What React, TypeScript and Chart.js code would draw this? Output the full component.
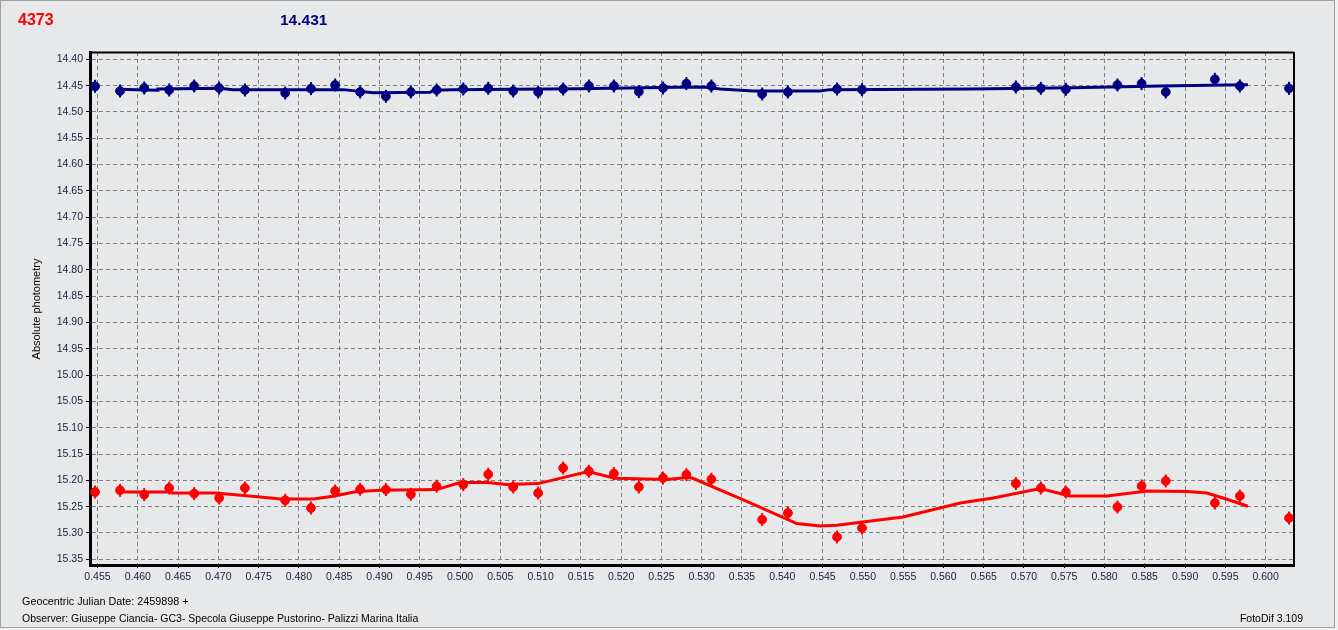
import React, { useEffect, useRef } from "react";
import { Chart, registerables } from "chart.js";
Chart.register(...registerables);

const jdTicks = [0.455, 0.46, 0.465, 0.47, 0.475, 0.48, 0.485, 0.49, 0.495, 0.5, 0.505, 0.51, 0.515, 0.52, 0.525, 0.53, 0.535, 0.54, 0.545, 0.55, 0.555, 0.56, 0.565, 0.57, 0.575, 0.58, 0.585, 0.59, 0.595, 0.6];
const magTicks = [14.4, 14.45, 14.5, 14.55, 14.6, 14.65, 14.7, 14.75, 14.8, 14.85, 14.9, 14.95, 15.0, 15.05, 15.1, 15.15, 15.2, 15.25, 15.3, 15.35];

const obsJD = [0.4547, 0.4578, 0.4608, 0.4639, 0.4670, 0.4701, 0.4733, 0.4783, 0.4815, 0.4845, 0.4876, 0.4908, 0.4939, 0.4971, 0.5004, 0.5035, 0.5066, 0.5097, 0.5128, 0.5160, 0.5191, 0.5222, 0.5252, 0.5281, 0.5312, 0.5375, 0.5407, 0.5468, 0.5499, 0.5690, 0.5721, 0.5752, 0.5816, 0.5846, 0.5876, 0.5937, 0.5968, 0.6029];
const compMag = [14.4513, 14.4602, 14.4545, 14.4583, 14.4507, 14.4545, 14.4583, 14.4640, 14.4557, 14.4488, 14.4621, 14.4703, 14.4621, 14.4583, 14.4564, 14.4551, 14.4602, 14.4621, 14.4564, 14.4507, 14.4507, 14.4614, 14.4545, 14.4462, 14.4507, 14.4659, 14.4621, 14.4564, 14.4576, 14.4526, 14.4551, 14.4570, 14.4488, 14.4462, 14.4621, 14.4380, 14.4507, 14.4551];
const varMag = [15.2222, 15.2189, 15.2271, 15.2146, 15.2252, 15.2336, 15.2146, 15.2379, 15.2526, 15.2203, 15.2170, 15.2176, 15.2265, 15.2113, 15.2081, 15.1885, 15.2127, 15.2241, 15.1766, 15.1828, 15.1872, 15.2127, 15.1956, 15.1891, 15.1980, 15.2746, 15.2621, 15.3077, 15.2906, 15.2062, 15.2146, 15.2222, 15.2507, 15.2108, 15.2013, 15.2431, 15.2298, 15.2716];

const varFitJD = [0.4574, 0.4639, 0.4643, 0.4697, 0.4752, 0.4777, 0.4818, 0.4842, 0.4872, 0.4901, 0.4971, 0.5000, 0.5034, 0.5058, 0.5097, 0.5159, 0.5192, 0.5257, 0.5282, 0.5289, 0.5356, 0.5418, 0.5447, 0.5468, 0.5500, 0.5550, 0.5621, 0.5662, 0.5720, 0.5757, 0.5803, 0.5853, 0.5903, 0.5927, 0.5952, 0.5978];
const varFitMag = [15.2222, 15.2222, 15.2241, 15.2241, 15.2317, 15.2355, 15.2355, 15.2303, 15.2214, 15.2189, 15.2176, 15.2043, 15.2043, 15.2081, 15.2062, 15.1834, 15.1961, 15.1986, 15.1948, 15.1961, 15.2398, 15.2822, 15.2868, 15.2854, 15.2792, 15.2697, 15.2431, 15.2336, 15.2157, 15.2298, 15.2298, 15.2203, 15.2214, 15.2241, 15.2360, 15.2493];
const compFitJD = [0.4574, 0.4624, 0.4625, 0.4702, 0.4718, 0.4855, 0.4892, 0.4963, 0.4967, 0.4991, 0.5145, 0.5269, 0.5302, 0.5323, 0.5364, 0.5447, 0.5459, 0.5633, 0.5761, 0.5869, 0.5952, 0.5978];
const compFitMag = [14.4570, 14.4589, 14.4564, 14.4551, 14.4576, 14.4576, 14.4633, 14.4627, 14.4589, 14.4576, 14.4557, 14.4532, 14.4526, 14.4564, 14.4602, 14.4602, 14.4576, 14.4564, 14.4538, 14.4507, 14.4488, 14.4481];

const varTitle = "4373";
const compTitle = "14.431";
const yTitle = "Absolute photometry";
const xTitle = "Geocentric Julian Date: 2459898 +";
const observer = "Observer: Giuseppe Ciancia- GC3- Specola Giuseppe Pustorino- Palizzi Marina Italia";
const software = "FotoDif 3.109";

const RED = "#ff0000";
const NAVY = "#000080";
const BG = "#e7e8ea";
const FONT = "'Liberation Sans', Arial, sans-serif";

function pts(xs: number[], ys: number[]) {
  return xs.map((x, i) => ({ x, y: ys[i] }));
}

export default function App() {
  const ref = useRef<HTMLCanvasElement | null>(null);
  useEffect(() => {
    document.body.style.margin = "0";
    const canvas = ref.current;
    if (!canvas) return;
    const frame = {
      id: "frame",
      afterDraw(chart: any) {
        const { ctx, chartArea: a } = chart;
        ctx.save();
        ctx.strokeStyle = "#000";
        ctx.lineWidth = 2;
        ctx.beginPath();
        ctx.moveTo(a.left, a.top + 0.5);
        ctx.lineTo(a.right, a.top + 0.5);
        ctx.moveTo(a.right, a.top);
        ctx.lineTo(a.right, a.bottom);
        ctx.stroke();
        ctx.restore();
      },
    };
    const mk = (data: any, color: string, extra: any) => ({
      data,
      borderColor: color,
      backgroundColor: color,
      pointBackgroundColor: color,
      pointBorderColor: color,
      ...extra,
    });
    const chart = new Chart(canvas, {
      type: "scatter",
      data: {
        datasets: [
          mk(pts(varFitJD, varFitMag), RED, { showLine: true, pointRadius: 0, borderWidth: 3, order: 3 }),
          mk(pts(compFitJD, compFitMag), NAVY, { showLine: true, pointRadius: 0, borderWidth: 3, order: 3 }),
          mk(pts(obsJD, varMag), RED, { pointStyle: "line", rotation: 90, pointRadius: 6.5, pointBorderWidth: 2, order: 2 }),
          mk(pts(obsJD, compMag), NAVY, { pointStyle: "line", rotation: 90, pointRadius: 6.5, pointBorderWidth: 2, order: 2 }),
          mk(pts(obsJD, varMag), RED, { pointStyle: "circle", pointRadius: 4.4, pointBorderWidth: 1, order: 1 }),
          mk(pts(obsJD, compMag), NAVY, { pointStyle: "circle", pointRadius: 4.4, pointBorderWidth: 1, order: 1 }),
        ],
      },
      options: {
        animation: false,
        responsive: false,
        events: [],
        layout: { padding: { top: 52, right: 44, left: 0, bottom: 0 } },
        plugins: { legend: { display: false }, tooltip: { enabled: false }, title: { display: false } },
        scales: {
          x: {
            type: "linear",
            min: 0.45407,
            max: 0.60352,
            afterBuildTicks: (s: any) => { s.ticks = jdTicks.map((v) => ({ value: v })); },
            afterFit: (s: any) => { s.height = 65; },
            ticks: {
              callback: (v: any) => Number(v).toFixed(3),
              color: "#1c1c3c",
              font: { family: FONT, size: 10.5 },
              padding: 3,
              maxRotation: 0,
              autoSkip: false,
            },
            grid: {
              color: "#808080",
              tickBorderDash: [],
              tickColor: "#000",
              tickLength: 3,
              lineWidth: 1,
            },
            border: { display: true, color: "#000", width: 3, dash: [4, 3] },
          },
          y: {
            type: "linear",
            reverse: true,
            min: 14.3861,
            max: 15.3609,
            afterBuildTicks: (s: any) => { s.ticks = magTicks.map((v) => ({ value: v })); },
            afterFit: (s: any) => { s.width = 90; },
            ticks: {
              callback: (v: any) => Number(v).toFixed(2),
              color: "#1c1c3c",
              font: { family: FONT, size: 10.5 },
              padding: 3,
              autoSkip: false,
            },
            grid: {
              color: "#808080",
              tickBorderDash: [],
              tickColor: "#000",
              tickLength: 4,
              lineWidth: 1,
            },
            border: { display: true, color: "#000", width: 3, dash: [4, 3] },
          },
        },
      },
      plugins: [frame],
    } as any);
    return () => chart.destroy();
  }, []);

  const txt: React.CSSProperties = { position: "absolute", fontFamily: FONT, whiteSpace: "nowrap", lineHeight: 1 };
  return (
    <div style={{ position: "relative", width: 1338, height: 630, background: "#f0f0f0", overflow: "hidden" }}>
      <div style={{ position: "absolute", left: 0, top: 0, width: 1333, height: 626, background: BG, border: "1px solid #a0a0a0" }} />
      <canvas ref={ref} width={1338} height={630} style={{ position: "absolute", left: 0, top: 0, width: 1338, height: 630 }} />
      <div style={{ ...txt, left: 18, top: 12, color: RED, fontWeight: "bold", fontSize: 16 }}>{varTitle}</div>
      <div style={{ ...txt, left: 280, top: 12, color: NAVY, fontWeight: "bold", fontSize: 15.5 }}>{compTitle}</div>
      <div style={{ ...txt, left: -18, top: 303, width: 110, height: 12, textAlign: "center", fontSize: 11, color: "#000", transform: "rotate(-90deg)" }}>{yTitle}</div>
      <div style={{ ...txt, left: 22, top: 596, fontSize: 10.8, color: "#000" }}>{xTitle}</div>
      <div style={{ ...txt, left: 22, top: 613, fontSize: 10.5, color: "#000" }}>{observer}</div>
      <div style={{ ...txt, right: 1338 - 1303, top: 613, fontSize: 10.5, color: "#000" }}>{software}</div>
    </div>
  );
}
